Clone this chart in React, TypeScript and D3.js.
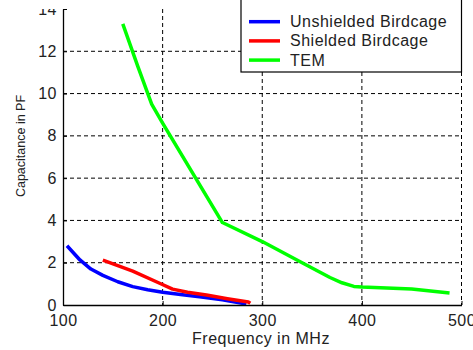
import { useEffect, useRef } from 'react';
import * as d3 from 'd3';

// frequency (MHz) / capacitance (pF)
const unshieldedFreq = [104, 117, 128, 140, 155, 170, 185, 200, 220, 237, 260, 284];
const unshieldedCap = [2.8, 2.13, 1.7, 1.4, 1.1, 0.87, 0.72, 0.6, 0.48, 0.39, 0.25, 0.05];

const shieldedFreq = [140, 170, 197, 210, 225, 244, 265, 286, 288];
const shieldedCap = [2.12, 1.6, 1.03, 0.75, 0.6, 0.47, 0.3, 0.14, 0.08];

const temFreq = [160, 175, 189, 200, 260, 300, 340, 368, 380, 392, 400, 450, 488];
const temCap = [13.3, 11.3, 9.5, 8.6, 3.9, 3.0, 2.0, 1.3, 1.05, 0.88, 0.85, 0.76, 0.57];

const xTicks = [100, 200, 300, 400, 500];
const yTicks = [0, 2, 4, 6, 8, 10, 12, 14];

const seriesNames = ['Unshielded Birdcage', 'Shielded Birdcage', 'TEM'];
const seriesColors = ['#0000ff', '#ff0000', '#00ff00'];

const FONT = '"Liberation Sans", Arial, sans-serif';

const App = () => {
  const svgRef = useRef(null);

  useEffect(() => {
    const width = 473;
    const height = 350;
    const margin = { top: 9, right: 11.5, bottom: 45, left: 63 };

    const svg = d3.select(svgRef.current);
    svg.selectAll('*').remove();
    svg.attr('width', width).attr('height', height);

    svg.append('rect').attr('width', width).attr('height', height).attr('fill', '#fff');

    const x = d3.scaleLinear().domain([100, 500]).range([margin.left, width - margin.right]);
    const y = d3.scaleLinear().domain([0, 14]).range([height - margin.bottom, margin.top]);

    const g = svg.append('g');

    // dashed grid
    g.selectAll('line.vgrid')
      .data(xTicks.slice(1))
      .enter()
      .append('line')
      .attr('x1', d => x(d))
      .attr('x2', d => x(d))
      .attr('y1', y(14))
      .attr('y2', y(0))
      .attr('stroke', '#000')
      .attr('stroke-dasharray', '4,3');

    g.selectAll('line.hgrid')
      .data(yTicks.filter(d => d > 0 && d < 14))
      .enter()
      .append('line')
      .attr('x1', x(100))
      .attr('x2', x(500))
      .attr('y1', d => y(d))
      .attr('y2', d => y(d))
      .attr('stroke', '#000')
      .attr('stroke-dasharray', '4,3');

    // series
    const series = [
      { f: unshieldedFreq, c: unshieldedCap, color: seriesColors[0] },
      { f: shieldedFreq, c: shieldedCap, color: seriesColors[1] },
      { f: temFreq, c: temCap, color: seriesColors[2] },
    ];
    const line = d3.line().x(d => x(d[0])).y(d => y(d[1]));

    series.forEach(s => {
      g.append('path')
        .datum(s.f.map((f, i) => [f, s.c[i]]))
        .attr('d', line)
        .attr('fill', 'none')
        .attr('stroke', s.color)
        .attr('stroke-width', 3.5)
        .attr('stroke-linejoin', 'round');
    });

    // axes (left + bottom only, ticks inward)
    const xAxis = g.append('g')
      .attr('transform', `translate(0,${y(0)})`)
      .call(d3.axisBottom(x).tickValues(xTicks).tickSizeInner(-4).tickSizeOuter(0).tickPadding(6));
    const yAxis = g.append('g')
      .attr('transform', `translate(${x(100)},0)`)
      .call(d3.axisLeft(y).tickValues(yTicks).tickSizeInner(-4).tickSizeOuter(0).tickPadding(6));

    [xAxis, yAxis].forEach(a => {
      a.select('.domain').attr('stroke', '#000').attr('stroke-width', 1.3);
      a.selectAll('.tick line').attr('stroke', '#000');
      a.selectAll('text')
        .attr('font-family', FONT)
        .attr('font-size', '16px')
        .attr('letter-spacing', '0.5px')
        .attr('fill', '#222');
    });
    xAxis.selectAll('text').attr('dy', '0.95em');

    // image is cut at the top
    svg.append('rect').attr('x', 0).attr('y', 0).attr('width', x(100) - 1).attr('height', 9).attr('fill', '#fff');

    // axis titles
    svg.append('text')
      .attr('x', 261)
      .attr('y', 343.5)
      .attr('text-anchor', 'middle')
      .attr('font-family', FONT)
      .attr('font-size', '16px')
      .attr('letter-spacing', '0.5px')
      .attr('fill', '#222')
      .text('Frequency in MHz');

    svg.append('text')
      .attr('transform', 'translate(25,146) rotate(-90)')
      .attr('text-anchor', 'middle')
      .attr('font-family', FONT)
      .attr('font-size', '12.5px')
      .attr('fill', '#222')
      .text('Capacitance in PF');

    // legend
    const legend = svg.append('g');
    legend.append('rect')
      .attr('x', 241)
      .attr('y', -5)
      .attr('width', x(500) - 241)
      .attr('height', 77)
      .attr('fill', '#fff')
      .attr('stroke', '#000')
      .attr('stroke-width', 1.2);

    const items = legend.selectAll('g.item')
      .data(seriesNames)
      .enter()
      .append('g')
      .attr('transform', (d, i) => `translate(0,${21.7 + i * 19.2})`);

    items.append('line')
      .attr('x1', 249)
      .attr('x2', 280)
      .attr('stroke', (d, i) => seriesColors[i])
      .attr('stroke-width', 3.5);

    items.append('text')
      .attr('x', 290)
      .attr('y', 5.5)
      .attr('font-family', FONT)
      .attr('font-size', '16px')
      .attr('letter-spacing', '0.5px')
      .attr('fill', '#222')
      .text(d => d);
  }, []);

  return <svg ref={svgRef} style={{ position: 'absolute', left: 0, top: 0 }} />;
};

export default App;
